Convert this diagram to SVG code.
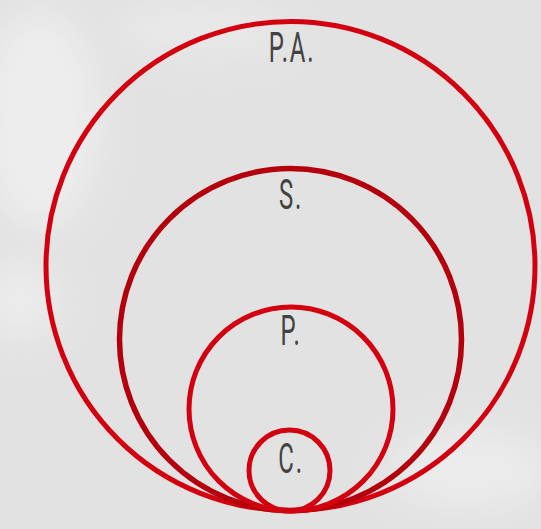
<svg xmlns="http://www.w3.org/2000/svg" width="541" height="529" viewBox="0 0 541 529">
  <style>
    .ring { fill: none; stroke: #d3000f; stroke-width: 5; }
    .ring.dark { stroke: #b3000c; stroke-width: 5.5; }
    .lbl { font-family: Roboto, "Liberation Sans", sans-serif; font-weight: 400; font-size: 42px; letter-spacing: 3px; fill: #424242; text-anchor: middle; }
  </style>
  <defs>
    <filter id="soft" x="-50%" y="-50%" width="200%" height="200%">
      <feGaussianBlur stdDeviation="18"/>
    </filter>
  </defs>
  <rect width="541" height="529" fill="#e2e2e2"/>
  <g filter="url(#soft)" opacity="0.7">
    <ellipse cx="40" cy="120" rx="60" ry="110" fill="#f2f2f2"/>
    <ellipse cx="20" cy="300" rx="40" ry="40" fill="#f0f0f0"/>
    <ellipse cx="470" cy="470" rx="80" ry="40" fill="#f0f0f0"/>
    <ellipse cx="200" cy="30" rx="90" ry="25" fill="#ececec"/>
  </g>
  <g id="connectors"></g>
  <g id="node-pa">
    <circle class="ring" cx="290.5" cy="266" r="244.5"/>
    <text class="lbl" transform="translate(292,62) scale(0.57,1)">P.A.</text>
  </g>
  <g id="node-s">
    <circle class="ring dark" cx="290.5" cy="339.5" r="171"/>
    <text class="lbl" transform="translate(291,209) scale(0.57,1)">S.</text>
  </g>
  <g id="node-p">
    <circle class="ring" cx="291" cy="409" r="102"/>
    <text class="lbl" transform="translate(291,345) scale(0.57,1)">P.</text>
  </g>
  <g id="node-c">
    <circle class="ring" cx="289.5" cy="470.5" r="40.5"/>
    <text class="lbl" transform="translate(291,473) scale(0.57,1)">C.</text>
  </g>
</svg>
